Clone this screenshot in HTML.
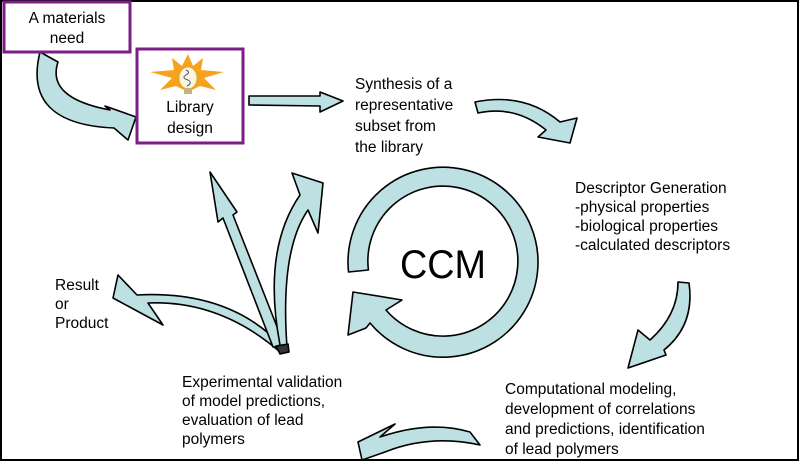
<!DOCTYPE html>
<html><head><meta charset="utf-8"><style>
html,body{margin:0;padding:0;background:#fff;}
svg{display:block;}
text{font-family:"Liberation Sans",sans-serif;font-size:15.5px;fill:#000;}
</style></head><body>
<svg width="800" height="463" viewBox="0 0 800 463" xmlns="http://www.w3.org/2000/svg">
<rect x="1" y="1" width="797" height="459" fill="#fff" stroke="#000" stroke-width="2"/>
<g fill="#bde0e3" stroke="#000" stroke-width="1.6" stroke-linejoin="round">
<path d="M40 52 L58 62 Q46 98 110 110 L105 106 L136 117 L128 140 L114 128 Q22 124 40 52 Z"/>
<path d="M249 96 L320 96 L320 92 L343 101 L320 112 L320 106 L249 105 Z"/>
<path d="M475 102 Q525 92 560 122 L577 118 L570 143 L538 137 L546 130 Q515 105 478 113 Z"/>
<path d="M348.5 272 A95 95 0 1 1 370 323 L366 328 L348 335 L353 292 L402 300 L386 310 A75 75 0 1 0 368.4 270 Z"/>
<path d="M678 282 L689 283 Q695 325 664 350 L666 355 L628 368 L638 330 L650 340 Q678 315 678 282 Z"/>
<path d="M470 432 Q430 420 380 437 L395 424 L358 442 L362 460 L385 452 Q430 434 480 445 Z"/>
<path d="M283 347 Q230 290 137 295 L118 275 L113 298 L163 325 L148 303 Q220 300 280 352 Z"/>
<path d="M273 347 L223 218 L218 222 L210 172 L237 212 L233 215 L285 347 Z"/>
<path d="M280 345 Q262 250 300 195 L292 173 L323 183 L318 233 L308 210 Q280 250 287 347 Z"/>
<path d="M276 346 L288 344 L289 352 L280 354 Z" fill="#333"/>
</g>
<rect x="4" y="2" width="126" height="50" fill="#fff" stroke="#7b1e86" stroke-width="3"/>
<rect x="137" y="49" width="106" height="94" fill="#fff" stroke="#7b1e86" stroke-width="3"/>
<polygon points="188,54 193,66 203,58 201,70 224,72 204,78 216,90 200,86 188,92 176,86 160,90 172,78 150,72 174,70 172,58 182,66" fill="#f7a21b"/>
<ellipse cx="188" cy="78" rx="9" ry="11" fill="#fdf6d8" stroke="#c9a94a" stroke-width="0.8"/>
<rect x="184" y="88" width="8" height="6" fill="#c9b27a"/>
<path d="M186 70 q5 2 0 5 q-5 3 2 5 q5 3 -1 6" fill="none" stroke="#3a4a9a" stroke-width="1"/>
<text x="67" y="23" text-anchor="middle">A materials</text>
<text x="67" y="43" text-anchor="middle">need</text>
<text x="190" y="112" text-anchor="middle">Library</text>
<text x="190" y="133" text-anchor="middle">design</text>
<text x="355" y="89">Synthesis of a</text>
<text x="355" y="110">representative</text>
<text x="355" y="131">subset from</text>
<text x="355" y="152">the library</text>
<text x="575" y="193">Descriptor Generation</text>
<text x="575" y="212">-physical properties</text>
<text x="575" y="231">-biological properties</text>
<text x="575" y="250">-calculated descriptors</text>
<text x="400" y="278" style="font-size:40px" textLength="86" lengthAdjust="spacingAndGlyphs">CCM</text>
<text x="55" y="290">Result</text>
<text x="55" y="309">or</text>
<text x="55" y="328">Product</text>
<text x="182" y="387">Experimental validation</text>
<text x="182" y="406">of model predictions,</text>
<text x="182" y="425">evaluation of lead</text>
<text x="182" y="444">polymers</text>
<text x="505" y="394">Computational modeling,</text>
<text x="505" y="414">development of correlations</text>
<text x="505" y="434">and predictions, identification</text>
<text x="505" y="454">of lead polymers</text>
</svg>
</body></html>
